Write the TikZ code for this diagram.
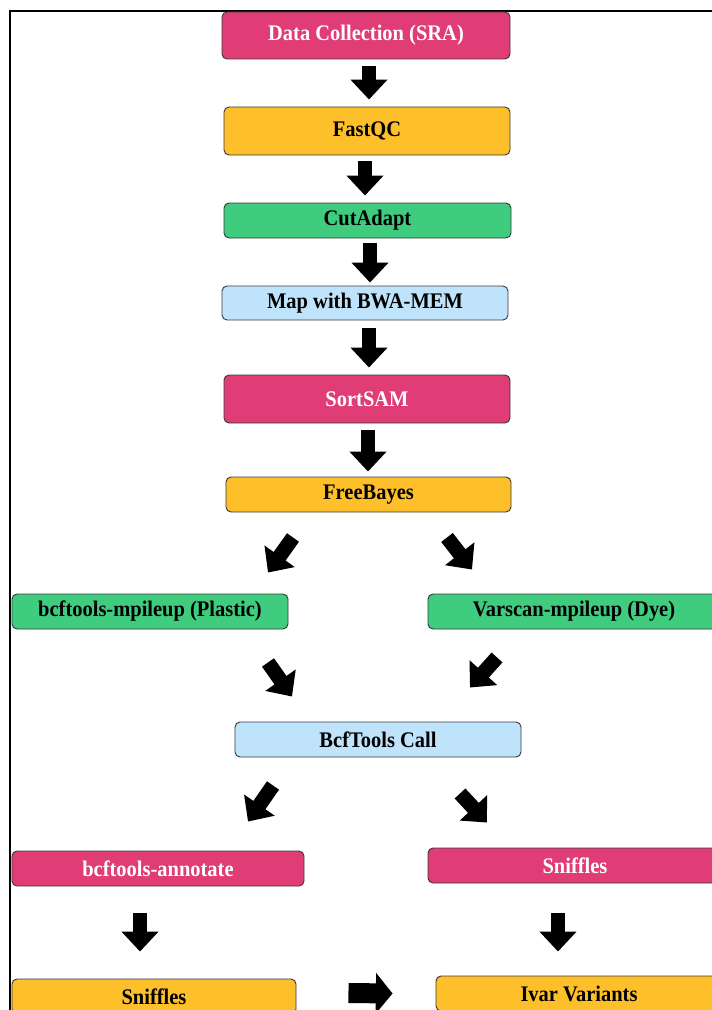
\documentclass[tikz,border=0pt]{standalone}
\usepackage{fontspec}
\setmainfont{Liberation Serif}
\newfontfamily\boxfont[FakeStretch=0.92]{Liberation Serif}
\usepackage{xcolor}
\usetikzlibrary{arrows.meta}
\usetikzlibrary{calc}
\definecolor{pinkbox}{HTML}{E03C76}
\definecolor{orangebox}{HTML}{FDBF2A}
\definecolor{greenbox}{HTML}{3FCC7F}
\definecolor{bluebox}{HTML}{BEE3FA}
\definecolor{edgegray}{HTML}{3A3A3A}

\begin{document}
\begin{tikzpicture}[x=0.3mm,y=-0.3mm,
  box/.style={draw=edgegray,line width=0.8pt,rounded corners=1.5mm,inner sep=0pt,
    minimum height=10.5mm,font=\boxfont\fontsize{19}{22}\selectfont\bfseries},
  pinkb/.style={box,fill=pinkbox,text=white},
  orangeb/.style={box,fill=orangebox,text=black},
  greenb/.style={box,fill=greenbox,text=black},
  blueb/.style={box,fill=bluebox,text=black},
  blk/.style={line width=4.4mm,-{Triangle[width=10.8mm,length=6mm]}}]
\useasboundingbox (0,0) rectangle (711,1010);

\draw[line width=0.45mm] (10,1012) -- (10,11) -- (713,11);

% main column
\node[pinkb,minimum width=86.4mm,minimum height=14.1mm] (dc) at (366,35.5) {Data Collection (SRA)};
\node[orangeb,minimum width=85.8mm,minimum height=14.4mm] (fq) at (367,131) {FastQC};
\node[greenb,minimum width=86.1mm] (ca) at (367.5,220.5) {CutAdapt};
\node[blueb,minimum width=85.8mm,minimum height=10.2mm] (bw) at (365,303) {Map with BWA-MEM};
\node[pinkb,minimum width=85.8mm,minimum height=14.4mm] (ss) at (367,399) {SortSAM};
\node[orangeb,minimum width=85.5mm] (fb) at (368.5,494.5) {FreeBayes};

% split
\node[greenb,minimum width=82.8mm] (bm) at (150,611.5) {bcftools-mpileup (Plastic)};
\node[greenb,minimum width=87.6mm] (vm) at (574,611.5) {Varscan-mpileup (Dye)};
\node[blueb,minimum width=85.8mm] (bc) at (378,739.5) {BcfTools Call};
\node[pinkb,minimum width=87.6mm] (ba) at (158,868.5) {bcftools-annotate};
\node[pinkb,minimum width=88.2mm] (sn) at (575,865.5) {Sniffles};
\node[orangeb,minimum width=85.2mm] (sb) at (154,996.5) {Sniffles};
\node[orangeb,minimum width=85.8mm] (iv) at (579,993.5) {Ivar Variants};

\draw[blk] ($(dc.south)+(3,7)$) -- ($(fq.north)+(2,-7)$);
\draw[blk] ($(fq.south)+(-2,6)$) -- ($(ca.north)+(-2.5,-7)$);
\draw[blk] ($(ca.south)+(2.5,5)$) -- ($(bw.north)+(5,-3)$);
\draw[blk] ($(bw.south)+(4,8)$) -- ($(ss.north)+(2,-7)$);
\draw[blk] ($(ss.south)+(1,7)$) -- ($(fb.north)+(-0.5,-5)$);

\draw[blk] ($(fb.south)+(-75.5,25)$) -- ($(bm.north)+(118,-21)$);
\draw[blk] ($(fb.south)+(78.5,25)$) -- ($(vm.north)+(-102,-24)$);
\draw[blk] ($(bm.south)+(118,33)$) -- ($(bc.north)+(-86,-25)$);
\draw[blk] ($(vm.south)+(-77,28)$) -- ($(bc.north)+(92,-34)$);
\draw[blk] ($(bc.south)+(-105,28)$) -- ($(ba.north)+(90,-29)$);
\draw[blk] ($(bc.south)+(82,36)$) -- ($(sn.north)+(-88,-25)$);

\draw[blk] ($(ba.south)+(-18,27)$) -- ($(sb.north)+(-14,-27)$);
\draw[blk] ($(sn.south)+(-17,30)$) -- ($(iv.north)+(-21,-24)$);
\draw[blk,line width=6mm,-{Triangle[width=12mm,length=5mm]}] ($(sb.east)+(52,-3.5)$) -- ($(iv.west)+(-43,0)$);

\end{tikzpicture}
\end{document}
